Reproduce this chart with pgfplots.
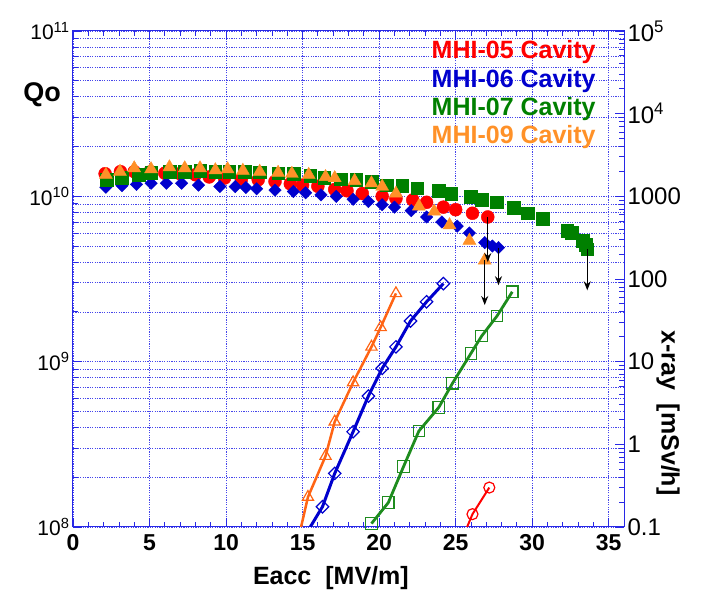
\documentclass[border=0pt]{standalone}
\usepackage{fontspec}
\setmainfont{Liberation Sans}
\usepackage{pgfplots}
\pgfplotsset{compat=1.18}
\usetikzlibrary{arrows.meta}

\definecolor{frameblue}{RGB}{40,40,230}
\definecolor{gridblue}{RGB}{70,70,235}
\definecolor{qred}{RGB}{255,0,0}
\definecolor{qblue}{RGB}{0,0,205}
\definecolor{qgreen}{RGB}{0,128,0}
\definecolor{qorange}{RGB}{255,145,40}
\definecolor{xorange}{RGB}{255,100,20}
\definecolor{xgreen}{RGB}{30,140,30}

\pgfplotsset{
  common/.style={
    width=551pt, height=496pt, scale only axis,
    xmin=0, xmax=36,
    axis line style={frameblue, line width=1pt},
    tick style={frameblue, line width=0.8pt},
    major tick length=9pt, minor tick length=5pt,
    tick align=inside,
    clip mode=individual,
  },
}

\begin{document}
\begin{tikzpicture}
\useasboundingbox (-73pt,-77pt) rectangle (631pt,527pt);

% ---------------- Q0 (left axis)
\begin{axis}[common,
    ymode=log, ymin=1e8, ymax=1e11,
    xtick={0,5,...,35}, xticklabels={0,5,10,15,20,25,30,35},
    minor x tick num=4,
    xtick pos=both, ytick pos=left,
    ytick={1e8,1e9,1e10,1e11},
    yticklabels={10\textsuperscript{8},10\textsuperscript{9},10\textsuperscript{10},10\textsuperscript{11}},
    minor ytick={2e8,3e8,4e8,5e8,6e8,7e8,8e8,9e8,2e9,3e9,4e9,5e9,6e9,7e9,8e9,9e9,2e10,3e10,4e10,5e10,6e10,7e10,8e10,9e10},
    xmajorgrids, ymajorgrids, yminorgrids,
    major grid style={gridblue, line width=0.7pt, dash pattern=on 1.2pt off 1.2pt},
    minor grid style={gridblue, line width=0.7pt, dash pattern=on 1.2pt off 1.2pt},
    x tick label style={font=\bfseries\fontsize{23}{26}\selectfont, yshift=-4pt},
    y tick label style={font=\fontsize{21}{24}\selectfont},
  ]
  % MHI-05
  \addplot[only marks, mark=*, mark size=6.5pt, color=qred] coordinates {
    (2.1,1.37e10) (3.1,1.41e10) (4.0,1.41e10) (5.0,1.40e10) (6.0,1.38e10)
    (7.0,1.37e10) (8.0,1.35e10) (8.9,1.31e10) (9.9,1.29e10) (11.0,1.27e10)
    (12.1,1.26e10) (13.2,1.23e10) (14.2,1.19e10) (15.0,1.17e10) (16.0,1.15e10)
    (17.1,1.10e10) (17.9,1.08e10) (18.9,1.04e10) (20.2,1.00e10) (21.1,9.7e9)
    (22.2,9.5e9) (23.1,9.2e9) (24.2,8.6e9) (25.0,8.3e9) (26.1,7.9e9) (27.1,7.5e9)
  };
  % MHI-06
  \addplot[only marks, mark=square*, mark size=4.4pt, mark options={rotate=45}, color=qblue] coordinates {
    (2.15,1.135e10) (3.2,1.16e10) (4.15,1.18e10) (5.1,1.20e10) (6.1,1.20e10)
    (7.1,1.20e10) (8.2,1.17e10) (9.6,1.146e10) (10.6,1.146e10) (11.3,1.13e10)
    (12.0,1.11e10) (13.2,1.09e10) (14.4,1.07e10) (15.2,1.05e10) (16.2,1.02e10)
    (17.2,1.0e10) (18.3,9.6e9) (19.3,9.3e9) (20.2,8.9e9) (21.0,8.6e9)
    (22.1,8.2e9) (23.1,7.5e9) (24.1,7.0e9) (25.1,6.6e9) (25.9,6.0e9)
    (26.9,5.25e9) (27.4,5.0e9) (27.8,4.9e9)
  };
  % MHI-07
  \addplot[only marks, mark=square*, mark size=6.3pt, color=qgreen] coordinates {
    (2.2,1.26e10) (3.2,1.30e10) (4.3,1.35e10) (5.1,1.39e10) (6.3,1.41e10)
    (7.3,1.41e10) (8.3,1.43e10) (9.3,1.41e10) (10.2,1.41e10) (11.2,1.41e10)
    (12.2,1.40e10) (13.4,1.38e10) (14.4,1.37e10) (15.5,1.33e10) (16.4,1.30e10)
    (17.5,1.27e10) (18.5,1.26e10) (19.5,1.23e10) (20.5,1.17e10) (21.5,1.16e10)
    (22.5,1.12e10) (23.9,1.08e10) (24.7,1.04e10) (26.0,9.96e9) (26.7,9.5e9)
    (27.7,9.2e9) (28.8,8.5e9) (29.7,7.9e9) (30.7,7.3e9) (32.3,6.2e9)
    (32.6,6.0e9) (33.3,5.4e9) (33.5,5.1e9) (33.6,4.8e9)
  };
  % MHI-09
  \addplot[only marks, mark=triangle*, mark size=7.5pt, color=qorange] coordinates {
    (2.15,1.35e10) (3.07,1.41e10) (4.0,1.48e10) (5.1,1.46e10) (6.3,1.50e10)
    (7.3,1.48e10) (8.3,1.48e10) (9.3,1.44e10) (10.1,1.46e10) (11.1,1.43e10)
    (12.2,1.41e10) (13.4,1.39e10) (14.3,1.37e10) (15.4,1.35e10) (16.5,1.31e10)
    (17.1,1.29e10) (18.4,1.24e10) (19.5,1.20e10) (20.2,1.146e10) (21.1,1.04e10)
    (22.6,8.7e9) (23.6,8.1e9) (24.6,6.7e9) (25.9,5.4e9) (26.9,4.1e9)
  };
  % limit arrows
  \addplot[black, line width=1.3pt, -{Stealth[length=9pt,width=7pt]}] coordinates {(27.1,7.5e9) (27.1,4.0e9)};
  \addplot[black, line width=1.3pt, -{Stealth[length=9pt,width=7pt]}] coordinates {(27.8,4.9e9) (27.8,2.9e9)};
  \addplot[black, line width=1.3pt, -{Stealth[length=9pt,width=7pt]}] coordinates {(26.9,4.1e9) (26.9,2.2e9)};
  \addplot[black, line width=1.3pt, -{Stealth[length=9pt,width=7pt]}] coordinates {(33.6,4.8e9) (33.6,2.7e9)};

  \node[font=\bfseries\fontsize{27}{30}\selectfont] at (rel axis cs:-0.056,0.871) {Qo};
  \node[font=\bfseries\fontsize{25}{28}\selectfont] at (rel axis cs:0.468,-0.103) {Eacc\hspace{14pt}[MV/m]};
  \begin{scope}[font=\bfseries\fontsize{25}{28}\selectfont]
    \node[anchor=east, text=qred] at (rel axis cs:0.955,0.958) {MHI-05 Cavity};
    \node[anchor=east, text=qblue] at (rel axis cs:0.955,0.899) {MHI-06 Cavity};
    \node[anchor=east, text=qgreen] at (rel axis cs:0.955,0.843) {MHI-07 Cavity};
    \node[anchor=east, text=qorange] at (rel axis cs:0.955,0.786) {MHI-09 Cavity};
  \end{scope}
\end{axis}

% ---------------- x-ray (right axis)
\begin{axis}[common,
    ymode=log, ymin=0.1, ymax=1e5,
    axis y line*=right, axis x line=none,
    ytick={0.1,1,10,100,1000,1e4,1e5},
    yticklabels={0.1,1,10,100,1000,10\textsuperscript{4},10\textsuperscript{5}},
    minor ytick={0.2,0.3,0.4,0.5,0.6,0.7,0.8,0.9,2,3,4,5,6,7,8,9,20,30,40,50,60,70,80,90,200,300,400,500,600,700,800,900,2000,3000,4000,5000,6000,7000,8000,9000,2e4,3e4,4e4,5e4,6e4,7e4,8e4,9e4},
    y tick label style={font=\fontsize{24}{27}\selectfont},
  ]
  \addplot[color=xorange, line width=2.5pt, mark=triangle, mark size=6.5pt, mark phase=2,
           mark options={solid, fill=white, line width=1.2pt}] coordinates {
    (14.9,0.1) (15.35,0.23) (16.5,0.72) (17.1,1.88) (18.3,5.6) (19.5,15.1) (20.1,26) (21.1,67)
  };
  \addplot[color=qblue, line width=3pt, mark=square, mark size=4.4pt, mark phase=2,
           mark options={solid, fill=white, line width=1.2pt, rotate=45}] coordinates {
    (15.5,0.1) (16.3,0.176) (17.1,0.445) (18.3,1.42) (19.3,3.84) (20.2,8.3)
    (21.1,15.1) (22.05,31) (23.1,53) (24.2,88)
  };
  \addplot[color=xgreen, line width=2.8pt, mark=square, mark size=5.8pt,
           mark options={solid, fill=white, line width=1.2pt}] coordinates {
    (19.5,0.11) (20.6,0.197) (21.6,0.54) (22.6,1.45) (23.9,2.8) (24.8,5.5)
    (26.0,12.6) (26.7,20.4) (27.7,35.6) (28.7,70)
  };
  \addplot[color=qred, line width=2pt, mark=o, mark size=5.5pt, mark phase=2,
           mark options={solid, fill=white, line width=1.2pt}] coordinates {
    (25.75,0.1) (26.1,0.143) (27.2,0.3)
  };
  \node[rotate=-90, font=\bfseries\fontsize{25}{28}\selectfont] at (rel axis cs:1.08,0.23) {x-ray\hspace{14pt}[mSv/h]};
\end{axis}
\end{tikzpicture}
\end{document}
